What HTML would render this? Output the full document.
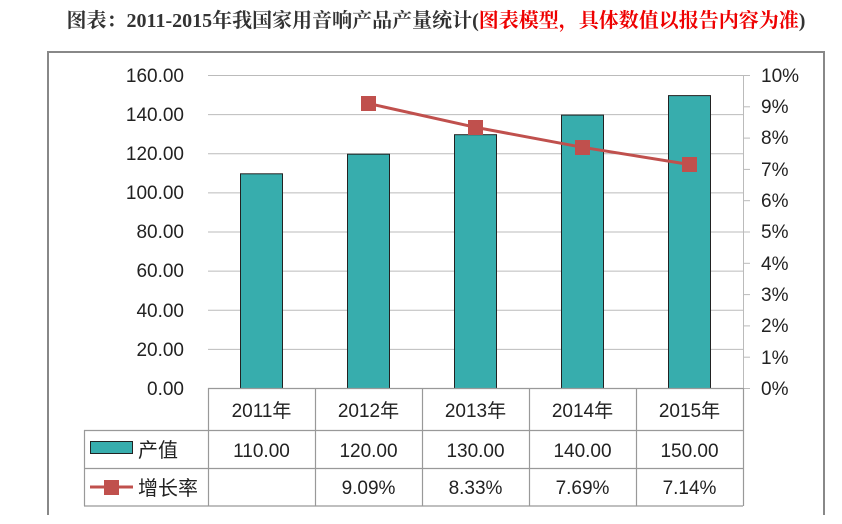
<!DOCTYPE html>
<html><head><meta charset="utf-8"><style>
body{margin:0;background:#fff;width:842px;height:524px;overflow:hidden}
svg{display:block}
text{font-family:"Liberation Sans","Noto Sans CJK SC",sans-serif;fill:#222}
</style></head><body>
<svg width="842" height="524" viewBox="0 0 842 524">
<text x="436" y="27" text-anchor="middle" font-size="20" font-weight="bold" style='font-family:"Liberation Serif","Noto Serif CJK SC",serif'><tspan fill="#333">图表：2011-2015年我国家用音响产品产量统计(</tspan><tspan fill="#e00">图表模型，具体数值以报告内容为准</tspan><tspan fill="#333">)</tspan></text>
<path d="M48 515V52H824V515" fill="none" stroke="#888" stroke-width="2"/>
<g stroke="#bbb" stroke-width="1">
<line x1="208" y1="75.5" x2="743" y2="75.5"/>
<line x1="208" y1="114.6" x2="743" y2="114.6"/>
<line x1="208" y1="153.7" x2="743" y2="153.7"/>
<line x1="208" y1="192.9" x2="743" y2="192.9"/>
<line x1="208" y1="232" x2="743" y2="232"/>
<line x1="208" y1="271.1" x2="743" y2="271.1"/>
<line x1="208" y1="310.2" x2="743" y2="310.2"/>
<line x1="208" y1="349.4" x2="743" y2="349.4"/>
<line x1="743.5" y1="75" x2="743.5" y2="388"/>
<line x1="743" y1="75.5" x2="750" y2="75.5"/><line x1="743" y1="106.8" x2="750" y2="106.8"/><line x1="743" y1="138.1" x2="750" y2="138.1"/><line x1="743" y1="169.4" x2="750" y2="169.4"/><line x1="743" y1="200.7" x2="750" y2="200.7"/><line x1="743" y1="232" x2="750" y2="232"/><line x1="743" y1="263.3" x2="750" y2="263.3"/><line x1="743" y1="294.6" x2="750" y2="294.6"/><line x1="743" y1="325.9" x2="750" y2="325.9"/><line x1="743" y1="357.2" x2="750" y2="357.2"/><line x1="743" y1="388.5" x2="750" y2="388.5"/>
</g>
<g fill="#37adad" stroke="#222" stroke-width="1">
<rect x="240.5" y="173.8" width="42" height="214.7"/>
<rect x="347.5" y="154.2" width="42" height="234.3"/>
<rect x="454.5" y="134.7" width="42" height="253.8"/>
<rect x="561.5" y="115.1" width="42" height="273.4"/>
<rect x="668.5" y="95.6" width="42" height="292.9"/>
</g>
<polyline points="368.5,103.5 475.5,127.3 582.5,147.3 689.5,164.5" fill="none" stroke="#c0504d" stroke-width="3"/>
<g fill="#c0504d">
<rect x="361" y="96" width="15" height="15"/><rect x="468" y="120" width="15" height="15"/><rect x="575" y="140" width="15" height="15"/><rect x="682" y="157" width="15" height="15"/>
</g>
<g font-size="19" text-anchor="end">
<text x="184" y="82">160.00</text><text x="184" y="121">140.00</text><text x="184" y="160">120.00</text><text x="184" y="199">100.00</text><text x="184" y="238">80.00</text><text x="184" y="277">60.00</text><text x="184" y="317">40.00</text><text x="184" y="356">20.00</text><text x="184" y="395">0.00</text>
</g>
<g font-size="19">
<text x="761" y="82">10%</text><text x="761" y="113">9%</text><text x="761" y="144">8%</text><text x="761" y="176">7%</text><text x="761" y="207">6%</text><text x="761" y="238">5%</text><text x="761" y="270">4%</text><text x="761" y="301">3%</text><text x="761" y="332">2%</text><text x="761" y="364">1%</text><text x="761" y="395">0%</text>
</g>
<g stroke="#999" stroke-width="1.2" fill="none">
<line x1="208" y1="388.5" x2="743" y2="388.5"/>
<line x1="84" y1="430.5" x2="743" y2="430.5"/>
<line x1="84" y1="468.5" x2="743" y2="468.5"/>
<line x1="84" y1="506" x2="743" y2="506"/>
<line x1="84.5" y1="430" x2="84.5" y2="506"/>
<line x1="208.5" y1="388" x2="208.5" y2="506"/><line x1="315.5" y1="388" x2="315.5" y2="506"/><line x1="422.5" y1="388" x2="422.5" y2="506"/><line x1="529.5" y1="388" x2="529.5" y2="506"/><line x1="636.5" y1="388" x2="636.5" y2="506"/><line x1="743.5" y1="388" x2="743.5" y2="506"/>
</g>
<g font-size="19" text-anchor="middle">
<text x="261.5" y="417">2011年</text><text x="368.5" y="417">2012年</text><text x="475.5" y="417">2013年</text><text x="582.5" y="417">2014年</text><text x="689.5" y="417">2015年</text>
<text x="261.5" y="457">110.00</text><text x="368.5" y="457">120.00</text><text x="475.5" y="457">130.00</text><text x="582.5" y="457">140.00</text><text x="689.5" y="457">150.00</text>
<text x="368.5" y="494">9.09%</text><text x="475.5" y="494">8.33%</text><text x="582.5" y="494">7.69%</text><text x="689.5" y="494">7.14%</text>
</g>
<rect x="90.5" y="441.5" width="42" height="12" fill="#37adad" stroke="#222"/>
<text x="138" y="457" font-size="20">产值</text>
<line x1="90" y1="487" x2="133" y2="487" stroke="#c0504d" stroke-width="3"/>
<rect x="104" y="480" width="15" height="15" fill="#c0504d"/>
<text x="138" y="495" font-size="20">增长率</text>
</svg>
</body></html>
